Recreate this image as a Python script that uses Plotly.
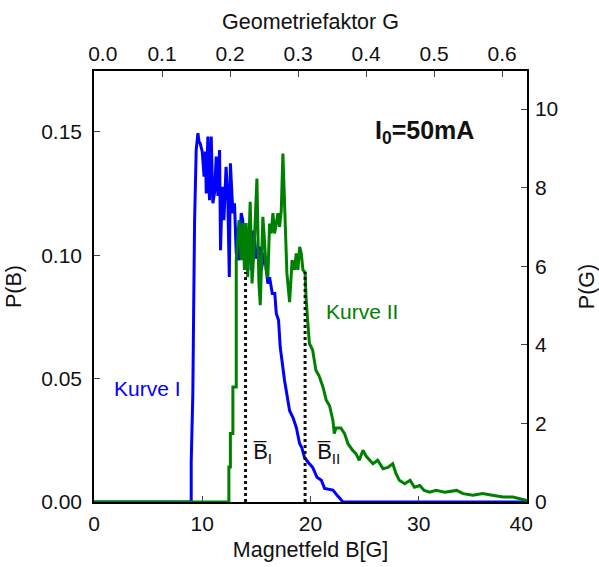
import math
import plotly.graph_objects as go

# ---------------- data ----------------
kurve1_B = [0, 8.98, 8.98, 9.13, 9.20, 9.29, 9.44, 9.60, 9.70, 9.81, 10.0, 10.17, 10.30, 10.37, 10.52,
            10.67, 10.83, 10.98, 11.14, 11.29, 11.45, 11.60, 11.69, 11.85, 12.0, 12.2, 12.35, 12.5,
            12.6, 12.83, 12.98, 13.14, 13.37, 13.6, 13.75, 13.9, 14.05, 14.36, 14.53, 14.75, 15.0,
            15.3, 15.45, 15.75, 16.06, 16.22, 16.47, 16.7, 16.84, 17.05, 17.2, 17.6, 18.07, 18.4,
            18.7, 18.99, 19.2, 19.45, 19.8, 20.2, 20.6, 21.0, 21.3, 22.07, 22.5, 23.0, 40.0]
kurve1_P = [0, 0, 0.016, 0.044, 0.075, 0.113, 0.1426, 0.1494, 0.146, 0.1453, 0.1419, 0.1318, 0.142,
            0.125, 0.148, 0.1223, 0.148, 0.121, 0.1254, 0.1399, 0.124, 0.1426, 0.102, 0.1277, 0.1142,
            0.1358, 0.125, 0.0912, 0.1372, 0.117, 0.121, 0.1007, 0.098, 0.117, 0.114, 0.098, 0.110,
            0.106, 0.0939, 0.110, 0.0986, 0.1034, 0.094, 0.101, 0.0885, 0.091, 0.0845, 0.0845, 0.0764,
            0.0736, 0.0628, 0.0493, 0.037, 0.034, 0.030, 0.0237, 0.022, 0.018, 0.016, 0.014, 0.010,
            0.0088, 0.0055, 0.0048, 0.0025, 0, 0]

kurve2_B = [0, 12.46, 12.46, 12.6, 12.6, 12.83, 12.83, 13.14, 13.14, 13.4, 13.6, 13.75, 13.9, 14.05,
            14.2, 14.43, 14.6, 14.8, 15.05, 15.23, 15.36, 15.6, 15.75, 15.9, 16.06, 16.22, 16.37,
            16.53, 16.68, 16.84, 16.99, 17.14, 17.3, 17.45, 17.6, 17.7, 17.82, 18.07, 18.3, 18.53,
            18.68, 18.84, 19.0, 19.15, 19.3, 19.5, 19.6, 19.76, 19.9, 20.2, 20.35, 20.5, 20.8, 21.15,
            21.46, 21.76, 22.07, 22.2, 22.35, 22.8, 23.15, 23.46, 23.9, 24.2, 24.5, 24.85, 25.15,
            25.45, 25.77, 26.2, 26.7, 27.15, 27.6, 27.9, 28.2, 28.7, 29.2, 29.6, 30.1, 30.5, 31.0,
            31.6, 32.4, 33.5, 34.1, 35.0, 35.9, 36.8, 37.8, 38.7, 39.6, 40.0]
kurve2_P = [0, 0, 0.0142, 0.0142, 0.0278, 0.0278, 0.0466, 0.0466, 0.098, 0.1142, 0.098, 0.113, 0.094,
            0.113, 0.0912, 0.1216, 0.0885, 0.104, 0.131, 0.089, 0.0797, 0.1155, 0.106, 0.094, 0.091,
            0.1128, 0.1088, 0.117, 0.1088, 0.1128, 0.117, 0.1115, 0.118, 0.1412, 0.1196, 0.1142,
            0.0926, 0.081, 0.098, 0.094, 0.1007, 0.094, 0.1034, 0.1007, 0.094, 0.093, 0.082, 0.0723,
            0.0642, 0.0615, 0.058, 0.0534, 0.051, 0.0466, 0.0412, 0.039, 0.033, 0.0277, 0.030, 0.030,
            0.0277, 0.0236, 0.0209, 0.0196, 0.0169, 0.021, 0.0185, 0.0169, 0.0155, 0.0169, 0.0135,
            0.014, 0.0155, 0.0115, 0.0088, 0.0074, 0.0088, 0.006, 0.0067, 0.0047, 0.004, 0.0047,
            0.004, 0.0047, 0.0034, 0.0027, 0.0034, 0.0027, 0.002, 0.002, 0.001, 0.0006]

mean_B = [14.0, 19.5]          # B-bar I, B-bar II
mean_P = [0.0932, 0.0932]      # top of dotted markers

B_max = 40.0
PB_max = 0.1746
G_per_B = 1.0 / (20 * math.pi)   # conversion B -> G

bottom_ticks = [0, 10, 20, 30, 40]
bottom_labels = ["0", "10", "20", "30", "40\u00a0\u00a0"]
left_ticks = [0.00, 0.05, 0.10, 0.15]
left_labels = ["0.00", "0.05", "0.10", "0.15"]
right_ticks = [0, 2, 4, 6, 8, 10]
right_labels = ["0", "2", "4", "6", "8", "10"]
top_ticks = [0.0, 0.1, 0.2, 0.3, 0.4, 0.5, 0.6]
top_labels = ["\u00a0\u00a0\u00a00.0", "0.1", "0.2", "0.3", "0.4", "0.5", "0.6"]

BLUE = "#0000ff"
GREEN = "#008000"
FONT = "Liberation Sans"

fig = go.Figure()

fig.add_trace(go.Scatter(x=kurve1_B, y=kurve1_P, mode="lines",
                         line=dict(color=BLUE, width=3), showlegend=False, hoverinfo="skip"))
fig.add_trace(go.Scatter(x=kurve2_B, y=kurve2_P, mode="lines",
                         line=dict(color=GREEN, width=3), showlegend=False, hoverinfo="skip"))
for b, p in zip(mean_B, mean_P):
    fig.add_trace(go.Scatter(x=[b, b], y=[0, p], mode="lines",
                             line=dict(color="#111111", width=3, dash="dot"),
                             showlegend=False, hoverinfo="skip"))

# invisible trace on the G / P(G) axes so they are drawn
fig.add_trace(go.Scatter(x=[b * G_per_B for b in kurve2_B], y=[p / G_per_B for p in kurve2_P],
                         xaxis="x2", yaxis="y2", mode="lines", opacity=0,
                         line=dict(color=GREEN, width=1), showlegend=False, hoverinfo="skip"))

tickfont = dict(family=FONT, size=21, color="#111111")
titlefont = dict(family=FONT, size=21.5, color="#111111")

common = dict(showline=True, linecolor="black", linewidth=1.5, ticks="inside", ticklen=6,
              tickcolor="#444444", tickwidth=1.2, showgrid=False, zeroline=False,
              tickfont=tickfont, automargin=False)

fig.update_layout(
    width=599, height=567,
    margin=dict(l=94, r=72, t=71, b=65, autoexpand=False),
    plot_bgcolor="white", paper_bgcolor="white",
    xaxis=dict(range=[0, B_max], tickvals=bottom_ticks, ticktext=bottom_labels,
               ticklabelstandoff=2,
               title=dict(text="Magnetfeld B[G]", font=titlefont, standoff=8), **common),
    yaxis=dict(range=[0, PB_max], tickvals=left_ticks, ticktext=left_labels,
               ticklabelstandoff=6,
               title=dict(text="P(B)", font=titlefont, standoff=14), **common),
    xaxis2=dict(range=[0, B_max * G_per_B], overlaying="x", side="top", anchor="y",
                tickvals=top_ticks, ticktext=top_labels,
                title=dict(text="Geometriefaktor G", font=titlefont, standoff=6), **common),
    yaxis2=dict(range=[0, PB_max / G_per_B], overlaying="y", side="right", anchor="x",
                tickvals=right_ticks, ticktext=right_labels,
                ticklabelstandoff=2,
                title=dict(text="P(G)", font=titlefont, standoff=22), **common),
)

fig.add_annotation(x=4.9, y=0.046, text="Kurve I", showarrow=False,
                   font=dict(family=FONT, size=21, color=BLUE))
fig.add_annotation(x=24.8, y=0.0773, text="Kurve II", showarrow=False,
                   font=dict(family=FONT, size=21, color=GREEN))
fig.add_annotation(x=30.5, y=0.150, text="<b>I<sub>0</sub>=50mA</b>", showarrow=False,
                   font=dict(family=FONT, size=25, color="#111111"))
fig.add_annotation(x=15.6, y=0.020, text="B\u0305<sub>I</sub>", showarrow=False,
                   font=dict(family=FONT, size=22, color="#111111"))
fig.add_annotation(x=21.7, y=0.020, text="B\u0305<sub>II</sub>", showarrow=False,
                   font=dict(family=FONT, size=22, color="#111111"))

fig.write_html("out.html")
